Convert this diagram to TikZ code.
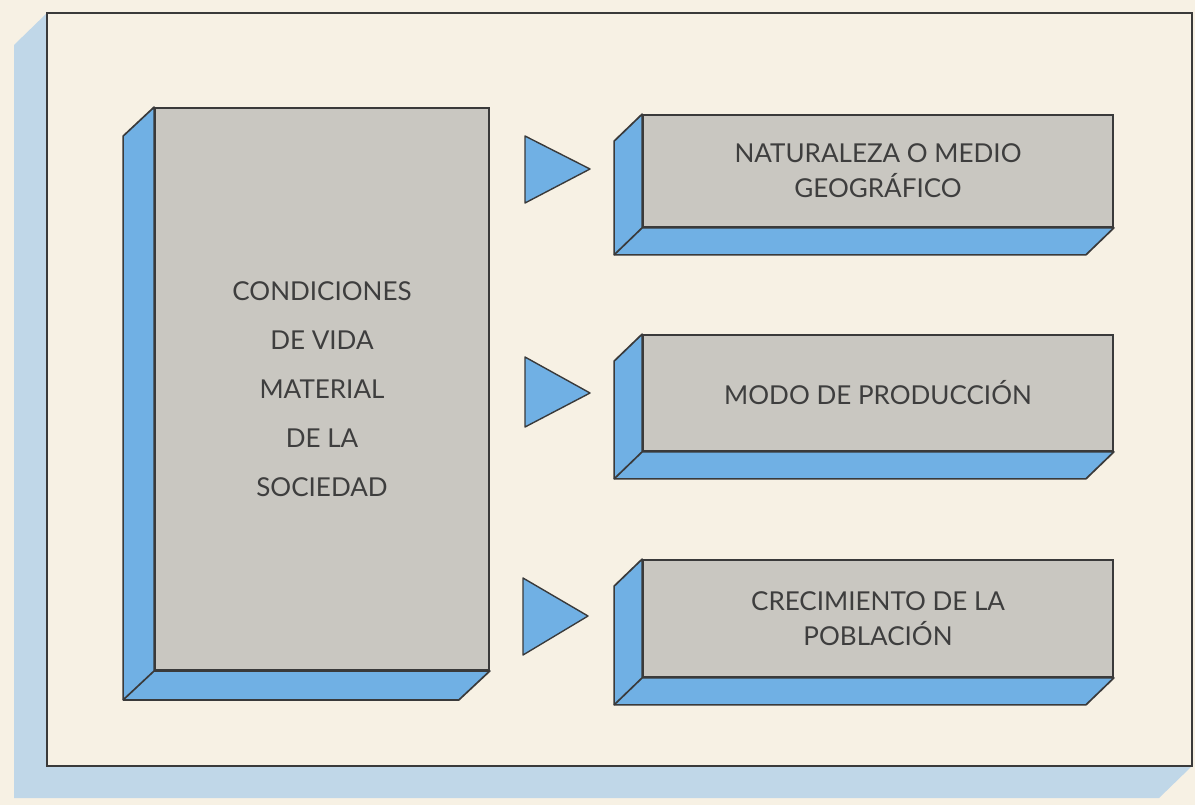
\documentclass[tikz,border=0pt]{standalone}
\usepackage{fontspec}
\setmainfont{Lato}
\usepackage{tikz}

\definecolor{paper}{RGB}{247,241,228}
\definecolor{facegray}{RGB}{201,199,193}
\definecolor{sideblue}{RGB}{112,176,228}
\definecolor{frameblue}{RGB}{192,215,232}
\definecolor{edge}{RGB}{58,58,58}
\definecolor{ink}{RGB}{62,62,62}

\tikzset{
  face/.style={draw=edge, fill=facegray, line width=1.2pt, inner sep=0pt,
    align=center, text=ink},
  side/.style={draw=edge, fill=sideblue, line width=1.2pt, line join=round},
  wedge/.style={draw=edge, fill=sideblue, line width=1pt, line join=round}
}

\begin{document}
\begin{tikzpicture}[x=0.025cm, y=-0.025cm]
% page and frame
\fill [paper] (0,0) rectangle (1195,805);
\fill [frameblue] (47,13) -- (14,45) -- (14,798) -- (1159,798) -- (1192,766) -- (47,766) -- cycle;
\draw [edge, line width=1.4pt, fill=paper] (47,13) rectangle (1192,766);

% big box
\node [face, minimum width=8.35cm, minimum height=14.05cm,
  font=\fontsize{18.5}{34.8}\selectfont] (cond) at (322,389)
  {CONDICIONES\\DE VIDA\\MATERIAL\\DE LA\\SOCIEDAD};
\draw [side] (cond.north west) -- ([shift={(-31,29)}]cond.north west)
  -- ([shift={(-31,29)}]cond.south west) -- ([shift={(-31,29)}]cond.south east)
  -- (cond.south east) -- (cond.south west) -- cycle;
\draw [side] (cond.south west) -- ([shift={(-31,29)}]cond.south west);

% right boxes
\node [face, minimum width=11.75cm, minimum height=2.8cm,
  font=\fontsize{18.5}{24.8}\selectfont] (nat) at (878,171)
  {NATURALEZA O MEDIO\\GEOGRÁFICO};
\node [face, minimum width=11.75cm, minimum height=2.9cm,
  font=\fontsize{18.5}{24.8}\selectfont] (modo) at (878,393)
  {MODO DE PRODUCCIÓN};
\node [face, minimum width=11.75cm, minimum height=2.925cm,
  font=\fontsize{18.5}{24.8}\selectfont] (pob) at (878,618.5)
  {CRECIMIENTO DE LA\\POBLACIÓN};

\foreach \b in {nat,modo,pob}{
  \draw [side] (\b.north west) -- ([shift={(-28,27)}]\b.north west)
    -- ([shift={(-28,27)}]\b.south west) -- ([shift={(-28,27)}]\b.south east)
    -- (\b.south east) -- (\b.south west) -- cycle;
  \draw [side] (\b.south west) -- ([shift={(-28,27)}]\b.south west);
}

% triangles
\draw [wedge] (525,136) -- (590,169) -- (525,203) -- cycle;
\draw [wedge] (525,357) -- (590,393) -- (525,427) -- cycle;
\draw [wedge] (523,578) -- (588,616) -- (523,655) -- cycle;
\end{tikzpicture}
\end{document}
